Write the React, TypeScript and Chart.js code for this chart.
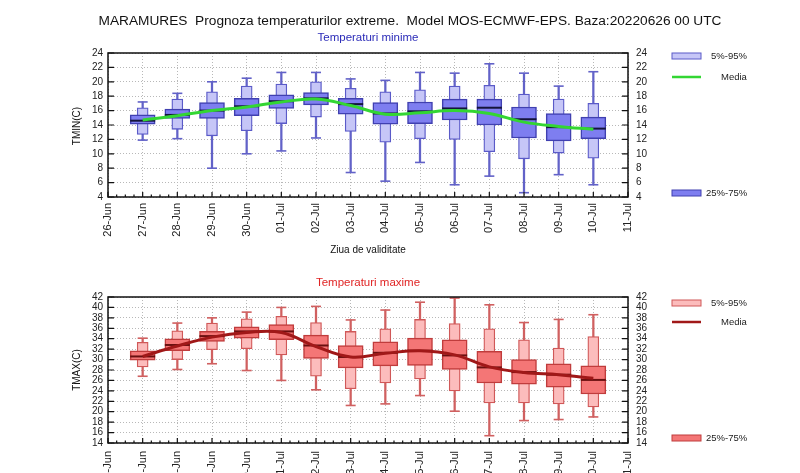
import React, { useEffect, useRef } from 'react';
import { Chart, registerables } from 'chart.js';

Chart.register(...registerables);

const FONT = '"Liberation Sans", Arial, Helvetica, sans-serif';

// x-axis tick labels (position 0..15)
const DAY_LABELS = ['26-Jun', '27-Jun', '28-Jun', '29-Jun', '30-Jun', '01-Jul', '02-Jul', '03-Jul', '04-Jul', '05-Jul', '06-Jul', '07-Jul', '08-Jul', '09-Jul', '10-Jul', '11-Jul'];
// positions of the forecast days on the axis (27-Jun .. 10-Jul)
const DAY_POS = [1, 2, 3, 4, 5, 6, 7, 8, 9, 10, 11, 12, 13, 14];

// Temperaturi minime
const TMIN_MIN = [11.9, 12.1, 8.0, 10.0, 10.4, 12.2, 7.4, 6.2, 8.8, 5.7, 6.9, 4.6, 7.1, 5.7];
const TMIN_P5 = [12.7, 13.4, 12.5, 13.2, 14.2, 15.1, 13.1, 11.6, 12.1, 12.0, 10.3, 9.3, 10.1, 9.4];
const TMIN_P25 = [14.1, 14.9, 14.9, 15.3, 16.3, 16.8, 15.5, 14.1, 14.2, 14.7, 14.0, 12.2, 11.8, 12.1];
const TMIN_MED = [14.6, 15.4, 16.0, 16.6, 17.3, 17.7, 16.9, 15.6, 15.9, 16.3, 16.4, 14.8, 13.7, 13.5];
const TMIN_P75 = [15.4, 16.2, 17.1, 17.7, 18.2, 18.5, 17.7, 17.1, 17.2, 17.6, 17.6, 16.5, 15.6, 15.1];
const TMIN_P95 = [16.4, 17.6, 18.6, 19.4, 19.7, 20.0, 19.1, 18.6, 18.9, 19.4, 19.5, 18.3, 17.6, 17.0];
const TMIN_MAX = [17.2, 18.4, 20.0, 20.5, 21.3, 21.3, 20.4, 20.2, 21.3, 21.2, 22.5, 21.2, 19.4, 21.4];
const TMIN_MEAN = [14.7, 15.3, 16.0, 16.5, 17.2, 17.6, 16.7, 15.5, 15.7, 16.0, 15.6, 14.4, 13.8, 13.4];

// Temperaturi maxime
const TMAX_MIN = [26.8, 28.1, 29.2, 27.9, 26.0, 24.2, 21.2, 21.5, 23.1, 20.1, 15.4, 18.3, 18.5, 19.0];
const TMAX_P5 = [28.6, 30.0, 31.9, 32.1, 30.9, 26.8, 24.4, 25.5, 26.3, 24.0, 21.7, 21.7, 21.5, 20.9];
const TMAX_P25 = [29.9, 31.7, 33.5, 34.1, 33.8, 30.2, 28.4, 28.8, 28.9, 28.1, 25.5, 25.3, 24.7, 23.4];
const TMAX_MED = [30.6, 32.8, 34.5, 35.4, 35.4, 32.7, 30.5, 31.3, 31.7, 30.8, 28.5, 27.6, 27.1, 26.1];
const TMAX_P75 = [31.7, 34.0, 35.4, 36.3, 36.7, 34.7, 32.7, 33.4, 34.1, 33.8, 31.6, 30.0, 29.2, 28.8];
const TMAX_P95 = [33.3, 35.5, 37.0, 37.8, 38.3, 37.1, 35.4, 35.9, 37.7, 36.9, 35.9, 33.8, 32.2, 34.4];
const TMAX_MAX = [34.1, 37.0, 38.0, 39.1, 40.0, 40.2, 37.6, 39.5, 41.0, 41.8, 40.5, 37.1, 37.7, 38.6];
const TMAX_MEAN = [30.6, 32.6, 34.3, 35.2, 35.2, 32.5, 30.5, 31.2, 31.7, 30.9, 28.6, 27.5, 27.1, 26.4];

interface Palette {
  light: string; lightBorder: string; dark: string; darkBorder: string;
  whisker: string; median: string; mean: string; subtitle: string;
}

const BLUE: Palette = {
  light: '#c6c6f7', lightBorder: '#5a5ac8', dark: '#7e7ef0', darkBorder: '#4040b0',
  whisker: '#6262c8', median: '#14143c', mean: '#33d633', subtitle: '#2b2bb8',
};
const RED: Palette = {
  light: '#fcbcbc', lightBorder: '#d05858', dark: '#f47676', darkBorder: '#c03c3c',
  whisker: '#d06060', median: '#6a1010', mean: '#a01818', subtitle: '#e02424',
};

interface PanelSpec {
  canvasTop: number; canvasHeight: number; areaTop: number; areaBottom: number;
  yMin: number; yMax: number; yTitle: string; subtitle: string; subtitleY: number;
  legend: { light: number; media: number; dark: number };
  mainTitle?: boolean; xTitle?: boolean; yTitleY: number; xPad: number;
  min: number[]; p5: number[]; p25: number[]; med: number[]; p75: number[]; p95: number[]; max: number[]; mean: number[];
  pal: Palette;
}

const AREA_LEFT = 108;
const AREA_RIGHT = 628;

function buildConfig(s: PanelSpec): any {
  const pal = s.pal;
  const off = s.canvasTop;
  const pts = (arr: number[]) => DAY_POS.map((x, i) => ({ x, y: arr[i] }));
  const rng = (a: number[], b: number[]) => DAY_POS.map((x, i) => ({ x, y: [a[i], b[i]] }));

  const decor = {
    id: 'decor',
    afterDraw(chart: any) {
      const { ctx, chartArea: ca, scales } = chart;
      const xs = scales.x;
      const ys = scales.y;
      ctx.save();
      // frame
      ctx.strokeStyle = '#111';
      ctx.lineWidth = 1.5;
      ctx.strokeRect(ca.left, ca.top, ca.right - ca.left, ca.bottom - ca.top);
      // inner ticks
      ctx.lineWidth = 1.2;
      ctx.beginPath();
      for (let i = 0; i <= 60; i++) {
        const v = i / 4;
        const px = xs.getPixelForValue(v);
        const len = i % 4 === 0 ? 5 : 2.5;
        ctx.moveTo(px, ca.bottom);
        ctx.lineTo(px, ca.bottom - len);
      }
      for (let v = s.yMin; v <= s.yMax; v += 2) {
        const py = ys.getPixelForValue(v);
        ctx.moveTo(ca.left, py);
        ctx.lineTo(ca.left + 6, py);
        ctx.moveTo(ca.right, py);
        ctx.lineTo(ca.right - 6, py);
      }
      ctx.stroke();

      ctx.textBaseline = 'middle';
      const text = (t: string, x: number, y: number, size: number, color: string, align: CanvasTextAlign = 'center') => {
        ctx.font = `${size}px ${FONT}`;
        ctx.fillStyle = color;
        ctx.textAlign = align;
        ctx.fillText(t, x, y - off);
      };
      if (s.mainTitle) {
        text('MARAMURES  Prognoza temperaturilor extreme.  Model MOS-ECMWF-EPS. Baza:20220626 00 UTC', 410, 21, 13.7, '#111');
      }
      text(s.subtitle, (ca.left + ca.right) / 2, s.subtitleY, 11.5, pal.subtitle);
      if (s.xTitle) {
        text('Ziua de validitate', (ca.left + ca.right) / 2, 250, 10, '#111');
      }
      // y title (rotated)
      ctx.save();
      ctx.translate(77, s.yTitleY - off);
      ctx.rotate(-Math.PI / 2);
      ctx.font = `10px ${FONT}`;
      ctx.fillStyle = '#111';
      ctx.textAlign = 'center';
      ctx.fillText(s.yTitle, 0, 0);
      ctx.restore();

      // legend
      const L = s.legend;
      ctx.lineWidth = 1;
      ctx.fillStyle = pal.light;
      ctx.fillRect(672, L.light - 3 - off, 29, 6);
      ctx.strokeStyle = pal.lightBorder;
      ctx.strokeRect(672, L.light - 3 - off, 29, 6);
      ctx.fillStyle = pal.dark;
      ctx.fillRect(672, L.dark - 3 - off, 29, 6);
      ctx.strokeStyle = pal.darkBorder;
      ctx.strokeRect(672, L.dark - 3 - off, 29, 6);
      ctx.strokeStyle = pal.mean;
      ctx.lineWidth = 2.5;
      ctx.beginPath();
      ctx.moveTo(672, L.media - off);
      ctx.lineTo(701, L.media - off);
      ctx.stroke();
      text('5%-95%', 711, L.light, 9.5, '#222', 'left');
      text('Media', 721, L.media, 9.5, '#222', 'left');
      text('25%-75%', 706, L.dark, 9.5, '#222', 'left');
      ctx.restore();
    },
  };

  const tickFont = { family: FONT, size: 10 };
  return {
    type: 'bar',
    data: {
      datasets: [
        {
          type: 'line', label: 'Media', data: pts(s.mean), borderColor: pal.mean, borderWidth: 3,
          tension: 0.4, pointRadius: 0, fill: false, order: 0,
        },
        {
          type: 'scatter', label: 'median', data: pts(s.med), pointStyle: 'line', pointRadius: 12.5,
          pointBorderWidth: 2, borderColor: pal.median, backgroundColor: pal.median, order: 1,
        },
        {
          type: 'bar', label: '25%-75%', data: rng(s.p25, s.p75), barThickness: 25, grouped: false,
          backgroundColor: pal.dark, borderColor: pal.darkBorder, borderWidth: 1.5, borderSkipped: false, order: 2,
        },
        {
          type: 'bar', label: '5%-95%', data: rng(s.p5, s.p95), barThickness: 11, grouped: false,
          backgroundColor: pal.light, borderColor: pal.lightBorder, borderWidth: 1.3, borderSkipped: false, order: 3,
        },
        {
          type: 'bar', label: 'whisker', data: rng(s.min, s.max), barThickness: 1.6, grouped: false,
          backgroundColor: pal.whisker, borderWidth: 0, order: 4,
        },
        {
          type: 'scatter', label: 'max', data: pts(s.max), pointStyle: 'line', pointRadius: 5,
          pointBorderWidth: 1.6, borderColor: pal.whisker, order: 4,
        },
        {
          type: 'scatter', label: 'min', data: pts(s.min), pointStyle: 'line', pointRadius: 5,
          pointBorderWidth: 1.6, borderColor: pal.whisker, order: 4,
        },
      ],
    },
    options: {
      responsive: false,
      animation: false,
      events: [],
      layout: { padding: { top: s.areaTop - s.canvasTop, bottom: 0, left: 0, right: 0 } },
      plugins: { legend: { display: false }, title: { display: false }, tooltip: { enabled: false } },
      scales: {
        x: {
          type: 'linear', min: 0, max: 15, offset: false,
          ticks: {
            stepSize: 1, autoSkip: false, minRotation: 90, maxRotation: 90, padding: s.xPad,
            font: { family: FONT, size: 11 }, color: '#222',
            callback: (v: number) => (Number.isInteger(v) ? DAY_LABELS[v] ?? '' : ''),
          },
          grid: { color: '#b8b8b8', lineWidth: 1, drawTicks: false, offset: false },
          border: { display: false, dash: [1, 2] },
          afterFit: (sc: any) => { sc.height = s.canvasTop + s.canvasHeight - s.areaBottom; },
        },
        y: {
          type: 'linear', position: 'left', min: s.yMin, max: s.yMax,
          ticks: { stepSize: 2, autoSkip: false, padding: 5, font: tickFont, color: '#222' },
          grid: { color: '#b8b8b8', lineWidth: 1, drawTicks: false },
          border: { display: false, dash: [1, 2] },
          afterFit: (sc: any) => { sc.width = AREA_LEFT; },
        },
        y2: {
          type: 'linear', position: 'right', min: s.yMin, max: s.yMax,
          ticks: { stepSize: 2, autoSkip: false, padding: 8, font: tickFont, color: '#222' },
          grid: { display: false, drawTicks: false },
          border: { display: false },
          afterFit: (sc: any) => { sc.width = 800 - AREA_RIGHT; },
        },
      },
    },
    plugins: [decor],
  };
}

const TOP: PanelSpec = {
  canvasTop: 0, canvasHeight: 262, areaTop: 53, areaBottom: 197,
  yMin: 4, yMax: 24, yTitle: 'TMIN(C)', yTitleY: 126, subtitle: 'Temperaturi minime', subtitleY: 38,
  legend: { light: 56, media: 77, dark: 193 }, mainTitle: true, xTitle: true, xPad: 6,
  min: TMIN_MIN, p5: TMIN_P5, p25: TMIN_P25, med: TMIN_MED, p75: TMIN_P75, p95: TMIN_P95, max: TMIN_MAX, mean: TMIN_MEAN,
  pal: BLUE,
};
const BOTTOM: PanelSpec = {
  canvasTop: 262, canvasHeight: 211, areaTop: 297, areaBottom: 443,
  yMin: 14, yMax: 42, yTitle: 'TMAX(C)', yTitleY: 370, subtitle: 'Temperaturi maxime', subtitleY: 283,
  legend: { light: 303, media: 322, dark: 438 }, xPad: 8,
  min: TMAX_MIN, p5: TMAX_P5, p25: TMAX_P25, med: TMAX_MED, p75: TMAX_P75, p95: TMAX_P95, max: TMAX_MAX, mean: TMAX_MEAN,
  pal: RED,
};

function Panel({ spec }: { spec: PanelSpec }) {
  const ref = useRef<HTMLCanvasElement | null>(null);
  useEffect(() => {
    if (!ref.current) return;
    const chart = new Chart(ref.current, buildConfig(spec));
    return () => chart.destroy();
  }, [spec]);
  return (
    <canvas
      ref={ref}
      width={800}
      height={spec.canvasHeight}
      style={{ position: 'absolute', left: 0, top: spec.canvasTop, width: 800, height: spec.canvasHeight, display: 'block' }}
    />
  );
}

export default function App() {
  return (
    <div style={{ position: 'fixed', left: 0, top: 0, width: 800, height: 473, background: '#fff', overflow: 'hidden' }}>
      <Panel spec={TOP} />
      <Panel spec={BOTTOM} />
    </div>
  );
}
